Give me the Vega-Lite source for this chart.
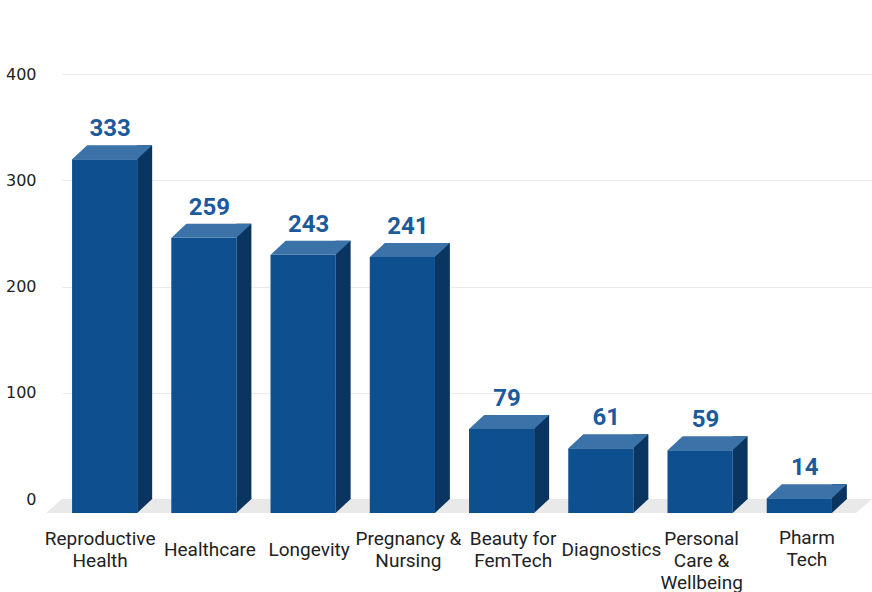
{
  "$schema": "https://vega.github.io/schema/vega-lite/v6.json",
  "width": 810,
  "height": 425,
  "autosize": {"type": "none"},
  "padding": {"left": 62, "top": 74, "right": 0, "bottom": 93},
  "background": "white",
  "config": {"view": {"stroke": null}},
  "data": {
    "values": [
      {"category": "Reproductive\nHealth", "value": 333},
      {"category": "Healthcare", "value": 259},
      {"category": "Longevity", "value": 243},
      {"category": "Pregnancy &\nNursing", "value": 241},
      {"category": "Beauty for\nFemTech", "value": 79},
      {"category": "Diagnostics", "value": 61},
      {"category": "Personal\nCare &\nWellbeing", "value": 59},
      {"category": "Pharm\nTech", "value": 14}
    ]
  },
  "encoding": {
    "x": {
      "field": "category",
      "type": "nominal",
      "sort": null,
      "scale": {"paddingInner": 0.343, "paddingOuter": 0.2525},
      "axis": {
        "title": null,
        "domain": false,
        "ticks": false,
        "tickSize": 0,
        "labelAngle": 0,
        "labelFont": "Roboto",
        "labelFontSize": 19,
        "labelColor": "#222222",
        "labelLineHeight": 22,
        "labelBaseline": "middle",
        "labelOverlap": false,
        "labelLimit": 300,
        "labelExpr": "split(datum.label, '\\n')",
        "labelPadding": {"condition": [
          {"test": "indexof(datum.value, 'Pharm') == 0", "value": 38},
          {"test": "indexof(datum.value, '\\n') >= 0", "value": 39}
        ], "value": 50},
        "labelOffset": {"condition": [
          {"test": "indexof(datum.value, 'Reproductive') == 0", "value": -19.5},
          {"test": "indexof(datum.value, 'Beauty') == 0", "value": -3.5},
          {"test": "indexof(datum.value, 'Diagnostics') == 0", "value": -4.5},
          {"test": "indexof(datum.value, 'Personal') == 0", "value": -13.5},
          {"test": "indexof(datum.value, 'Pharm') == 0", "value": -7.5}
        ], "value": -9}
      }
    }
  },
  "layer": [
    {
      "data": {"values": [{}]},
      "mark": {"type": "point", "filled": true, "opacity": 1, "strokeWidth": 0, "color": "#e9e9e9", "size": 708964, "shape": "M -0.962 0 L 0.962 0 L 0.924 0.03325 L -1 0.03325 Z"},
      "encoding": {
        "x": null,
        "y": {
          "datum": 0,
          "type": "quantitative",
          "scale": {"domain": [0, 400], "nice": false},
          "axis": {
            "title": null,
            "values": [0, 100, 200, 300, 400],
            "domain": false,
            "ticks": false,
            "tickSize": 0,
            "labelFont": "DejaVu Sans",
            "labelFontSize": 16,
            "labelColor": "#222222",
            "labelPadding": 26,
            "grid": true,
            "gridColor": "#ebebeb",
            "gridWidth": 1
          }
        }
      }
    },
    {
      "mark": {"type": "bar", "width": 15, "xOffset": 25, "color": "#0a3560"},
      "encoding": {
        "y": {"field": "value", "type": "quantitative"}
      }
    },
    {
      "mark": {"type": "point", "filled": true, "opacity": 1, "strokeWidth": 0, "color": "#0a3560", "size": 225, "xOffset": 25, "shape": "M -1 -0.1 L 1 -0.1 L 1 0 L -1 1.8667 Z"},
      "encoding": {
        "y": {"datum": 0, "type": "quantitative"}
      }
    },
    {
      "mark": {"type": "bar", "xOffset": -15, "yOffset": 14, "y2Offset": 14, "color": "#0e4f8f"},
      "encoding": {
        "y": {"field": "value", "type": "quantitative"}
      }
    },
    {
      "mark": {"type": "point", "filled": true, "opacity": 1, "strokeWidth": 0, "color": "#3b72a7", "size": 6400, "xOffset": -7.5, "yOffset": 7, "shape": "M -1 0.175 L 0.625 0.175 L 1 -0.175 L -0.625 -0.175 Z"},
      "encoding": {
        "y": {"field": "value", "type": "quantitative"}
      }
    },
    {
      "mark": {"type": "text", "xOffset": -9.5, "yOffset": -9, "baseline": "alphabetic", "align": "center", "font": "Roboto", "fontWeight": "bold", "fontSize": 24, "color": "#1b5a9c"},
      "encoding": {
        "y": {"field": "value", "type": "quantitative"},
        "text": {"field": "value", "type": "quantitative"}
      }
    }
  ]
}
